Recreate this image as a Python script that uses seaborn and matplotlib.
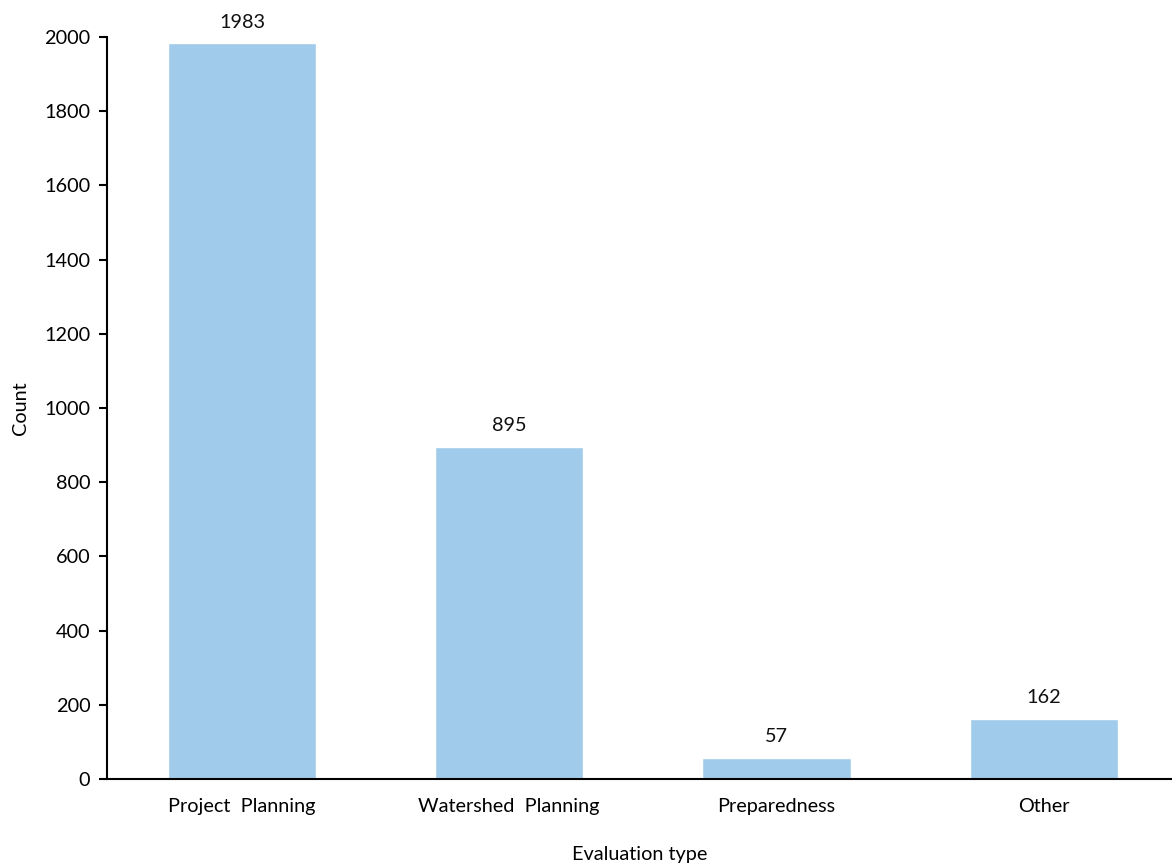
import matplotlib
matplotlib.use("Agg")
import matplotlib.pyplot as plt
import seaborn as sns
import pandas as pd

categories = ["Project  Planning", "Watershed  Planning", "Preparedness", "Other"]
counts = [1983, 895, 57, 162]
y_ticks = [0, 200, 400, 600, 800, 1000, 1200, 1400, 1600, 1800, 2000]

sns.set_theme(style="white")
plt.rcParams['font.family'] = ['Lato', 'DejaVu Sans']

df = pd.DataFrame({"Evaluation type": categories, "Count": counts})

W, H = 1172, 863
fig = plt.figure(figsize=(W / 100, H / 100), dpi=100)
ax = fig.add_axes([107 / W, (H - 779) / H, 1 - 107 / W, (779 - 37) / H])

sns.barplot(data=df, x="Evaluation type", y="Count", color="#A0CBEA",
            saturation=1, width=0.555, ax=ax)

for i, v in enumerate(counts):
    ax.annotate(str(v), (i, v), xytext=(0, 9), textcoords="offset points",
                ha="center", va="bottom", fontsize=14.3, color="#111111")

ax.set_ylim(0, 2000)
ax.set_xlim(-0.505, 3.48)
ax.set_yticks(y_ticks)
ax.set_yticklabels([str(t) for t in y_ticks])
sns.despine(ax=ax, top=True, right=True)
ax.spines["left"].set_color("black")
ax.spines["bottom"].set_color("black")
ax.spines["left"].set_linewidth(1.5)
ax.spines["bottom"].set_linewidth(1.5)
ax.tick_params(axis="y", which="both", left=True, length=6, width=1.5,
               direction="out", labelsize=14.3, colors="black", pad=6)
ax.tick_params(axis="x", bottom=False, labelsize=14.3, colors="black", pad=8)
ax.set_ylabel("Count", fontsize=14.3, color="black", labelpad=11)
ax.set_xlabel("Evaluation type", fontsize=14.3, color="black", labelpad=22)

fig.savefig("out.png", dpi=100)
